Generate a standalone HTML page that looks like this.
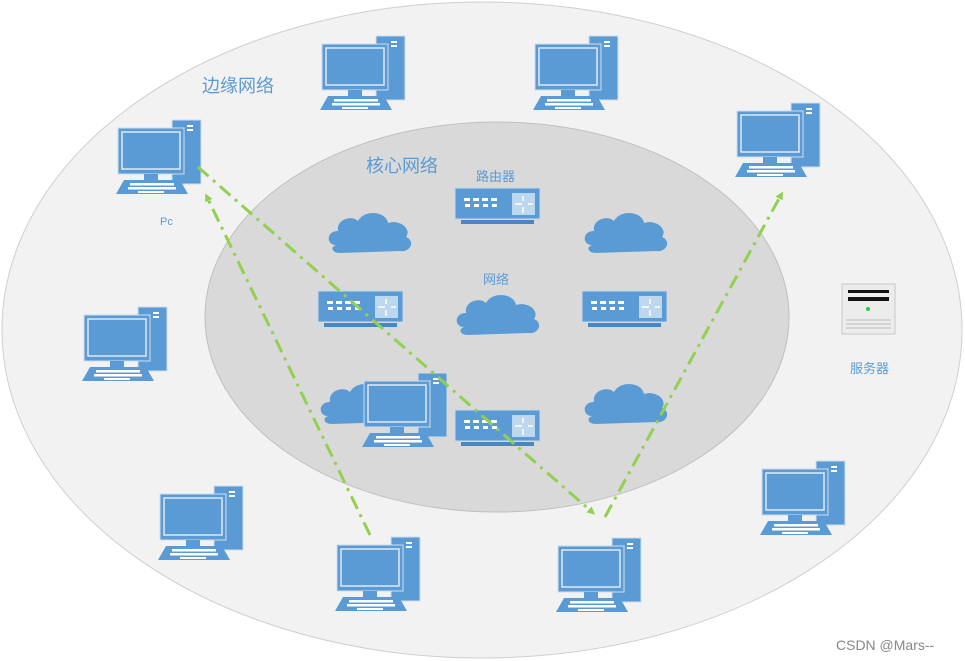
<!DOCTYPE html>
<html><head><meta charset="utf-8"><style>
html,body{margin:0;padding:0;background:#fff;}
svg{display:block;font-family:"Liberation Sans","Noto Sans CJK SC",sans-serif;}
</style></head><body>
<svg width="965" height="661" viewBox="0 0 965 661" xmlns="http://www.w3.org/2000/svg">
<defs>
<g id="pc">
  <rect x="56" y="1" width="29" height="64" fill="#5b9bd5" stroke="#d0dcea" stroke-width="1"/>
  <rect x="71" y="6" width="6" height="2" fill="#fff"/>
  <rect x="71" y="10" width="6" height="2" fill="#fff"/>
  <rect x="2" y="9" width="66" height="46" fill="#5b9bd5" stroke="#d0dcea" stroke-width="1"/>
  <rect x="6" y="13" width="58" height="37" fill="#5b9bd5" stroke="#dfe9f5" stroke-width="1.5"/>
  <rect x="28" y="55" width="14" height="6" fill="#5b9bd5"/>
  <polygon points="8,61 64,61 72,75 0,75" fill="#5b9bd5"/>
  <g fill="#fff">
   <rect x="14" y="64" width="44" height="2.5"/>
   <rect x="12" y="68" width="48" height="2.5"/>
   <rect x="22" y="72" width="26" height="2"/>
  </g>
</g>
<g id="rt">
  <rect x="0" y="0" width="85" height="31" fill="#5b9bd5" stroke="#c9d8ea"/>
  <rect x="6" y="32" width="73" height="4" fill="#4a86c0"/>
  <g fill="#fff">
   <rect x="9" y="10" width="6" height="3"/><rect x="18" y="10" width="6" height="3"/><rect x="27" y="10" width="6" height="3"/><rect x="36" y="10" width="6" height="3"/>
   <rect x="10" y="16" width="5" height="3"/><rect x="19" y="16" width="5" height="3"/><rect x="28" y="16" width="5" height="3"/><rect x="37" y="16" width="5" height="3"/>
  </g>
  <rect x="57" y="5" width="23" height="22" fill="#bdd7ee"/>
  <path d="M60 16h7M73 16h5M68 8v5M68 19v6" stroke="#fff" stroke-width="1.5"/>
</g>
<path id="cl" d="M10 38 C0 38 0 24 12 24 C10 12 26 8 32 14 C38 2 60 4 62 16 C74 12 86 22 80 30 C90 34 84 46 74 44 L14 46 C6 46 4 40 10 38 Z" fill="#5b9bd5"/>
<marker id="ar" markerWidth="8" markerHeight="8" refX="4" refY="4" orient="auto" markerUnits="userSpaceOnUse"><path d="M0 0L8 4L0 8Z" fill="#92d050"/></marker>
</defs>
<ellipse cx="482" cy="330" rx="480" ry="328" fill="#f2f2f2" stroke="#cfcfcf"/>
<ellipse cx="497" cy="317" rx="292" ry="195" fill="#d9d9d9" stroke="#bfbfbf"/>
<use href="#pc" x="320" y="35"/>
<use href="#pc" x="533" y="35"/>
<use href="#pc" x="116" y="119"/>
<use href="#pc" x="735" y="102"/>
<use href="#pc" x="82" y="306"/>
<use href="#pc" x="158" y="485"/>
<use href="#pc" x="335" y="536"/>
<use href="#pc" x="556" y="537"/>
<use href="#pc" x="760" y="460"/>
<use href="#rt" x="455" y="188"/>
<use href="#rt" x="318" y="291"/>
<use href="#rt" x="582" y="291"/>
<use href="#rt" x="455" y="410"/>
<use href="#cl" x="326" y="207"/>
<use href="#cl" x="582" y="207"/>
<use href="#cl" x="454" y="289"/>
<use href="#cl" x="318" y="378"/>
<use href="#cl" x="582" y="378"/>
<use href="#pc" x="362" y="372"/>
<rect x="842" y="284" width="53" height="50" fill="#ececec" stroke="#c8c8c8"/>
<rect x="848" y="290" width="41" height="3" fill="#111"/>
<rect x="848" y="297" width="41" height="4" fill="#111"/>
<circle cx="868" cy="309" r="2" fill="#2ecc40"/>
<path d="M846 320h45M846 324h45M846 328h45" stroke="#bbb"/>
<g stroke="#92d050" stroke-width="3" fill="none" stroke-dasharray="14 6 3 6">
<line x1="198" y1="167" x2="592" y2="512" marker-end="url(#ar)"/>
<line x1="370" y1="535" x2="207" y2="197" marker-end="url(#ar)"/>
<line x1="605" y1="517" x2="781" y2="195" marker-end="url(#ar)"/>
</g>
<g fill="#5b9bd5">
<text x="202" y="92" font-size="18">边缘网络</text>
<text x="366" y="172" font-size="18">核心网络</text>
<text x="476" y="181" font-size="13">路由器</text>
<text x="483" y="284" font-size="13">网络</text>
<text x="160" y="225" font-size="11">Pc</text>
<text x="850" y="373" font-size="13">服务器</text>
</g>
<text x="836" y="650" font-size="14" fill="#888">CSDN @Mars--</text>
</svg>
</body></html>
